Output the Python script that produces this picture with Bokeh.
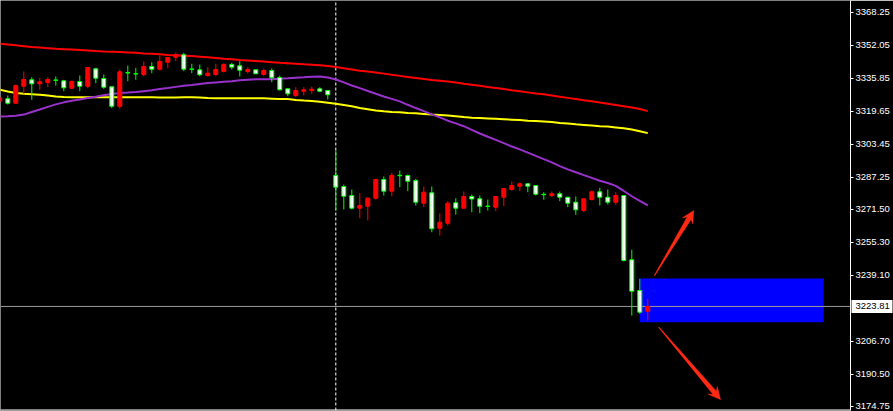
import math

from bokeh.plotting import figure
from bokeh.models import Range1d, LinearAxis, FixedTicker, PrintfTickFormatter
from bokeh.embed import file_html
from bokeh.resources import INLINE

# ---- price data (bar index, OHLC) ----
candle_index = list(range(-1, 81))

opens = [3324.57, 3325.74, 3323.58, 3331.93, 3335.07, 3333.11, 3333.75, 3335.00, 3334.58, 3330.95,
         3334.24, 3331.93, 3340.47, 3335.71, 3331.64, 3322.11, 3338.60, 3338.10, 3337.67, 3341.60,
         3340.28, 3343.71, 3346.17, 3347.34, 3340.40, 3339.98, 3337.18, 3337.67, 3339.15, 3342.58,
         3341.94, 3339.15, 3339.98, 3337.67, 3339.64, 3336.20, 3330.65, 3327.36, 3329.48, 3329.82,
         3330.65, 3329.82, 3288.09, 3282.69, 3278.27, 3272.04, 3273.02, 3276.95, 3286.13, 3280.39,
         3288.20, 3288.09, 3285.64, 3274.49, 3279.60, 3262.22, 3264.68, 3274.69, 3272.04, 3277.78,
         3276.65, 3273.10, 3272.53, 3277.44, 3281.22, 3282.84, 3284.02, 3283.18, 3278.85, 3278.27,
         3279.11, 3277.44, 3274.99, 3270.91, 3276.31, 3280.09, 3277.44, 3274.99, 3278.27, 3246.71,
         3231.64, 3221.48]
highs = [3326.90, 3327.36, 3332.76, 3339.15, 3336.35, 3336.05, 3336.35, 3336.69, 3335.07, 3334.73,
         3337.18, 3341.11, 3340.96, 3337.67, 3331.64, 3340.13, 3342.09, 3340.96, 3344.06, 3343.71,
         3347.00, 3346.02, 3348.47, 3348.33, 3342.93, 3342.58, 3341.26, 3342.93, 3343.22, 3343.42,
         3344.20, 3341.26, 3340.00, 3340.47, 3340.62, 3337.18, 3330.65, 3331.44, 3331.44, 3331.78,
         3331.44, 3329.82, 3300.36, 3283.67, 3281.22, 3279.40, 3277.44, 3286.47, 3287.60, 3289.42,
         3290.55, 3288.58, 3286.47, 3282.69, 3282.69, 3269.59, 3275.48, 3276.95, 3280.24, 3278.77,
         3278.27, 3276.31, 3277.78, 3281.71, 3285.15, 3284.66, 3284.02, 3283.18, 3279.90, 3280.24,
         3280.24, 3277.44, 3277.78, 3276.65, 3280.73, 3282.06, 3281.22, 3279.90, 3278.27, 3251.62,
         3237.38, 3227.57]
lows = [3323.90, 3322.95, 3323.19, 3328.20, 3325.25, 3330.16, 3331.44, 3332.27, 3329.48, 3330.65,
        3329.48, 3330.95, 3333.40, 3330.65, 3321.13, 3320.84, 3334.38, 3335.07, 3336.84, 3338.31,
        3339.64, 3340.77, 3344.20, 3339.29, 3338.31, 3336.84, 3336.69, 3336.84, 3338.66, 3340.13,
        3336.69, 3338.16, 3338.00, 3337.03, 3333.89, 3329.82, 3327.02, 3326.53, 3327.36, 3328.20,
        3328.98, 3325.40, 3270.91, 3271.40, 3271.40, 3267.13, 3266.00, 3276.16, 3278.27, 3277.93,
        3282.35, 3280.39, 3273.37, 3272.53, 3260.26, 3258.64, 3263.55, 3268.95, 3272.04, 3270.08,
        3269.59, 3270.91, 3270.57, 3273.02, 3280.73, 3280.39, 3279.90, 3278.27, 3276.16, 3277.44,
        3275.48, 3272.53, 3268.80, 3270.08, 3275.82, 3273.37, 3273.86, 3273.71, 3245.88, 3219.37,
        3220.20, 3216.91]
closes = [3326.24, 3323.58, 3332.27, 3335.22, 3333.11, 3334.09, 3335.22, 3334.80, 3331.14, 3334.24,
          3331.93, 3341.11, 3335.86, 3331.44, 3322.11, 3339.00, 3338.40, 3337.90, 3341.60, 3340.28,
          3344.06, 3346.02, 3347.49, 3340.28, 3340.20, 3337.53, 3338.31, 3340.13, 3342.58, 3341.26,
          3339.78, 3340.13, 3338.02, 3339.64, 3336.05, 3330.16, 3328.20, 3329.82, 3330.16, 3330.46,
          3329.48, 3327.71, 3282.35, 3277.93, 3272.04, 3273.37, 3276.95, 3286.13, 3280.39, 3288.09,
          3288.00, 3285.30, 3274.99, 3279.90, 3261.93, 3265.17, 3274.49, 3272.04, 3277.78, 3276.56,
          3273.02, 3272.90, 3277.78, 3281.71, 3283.18, 3284.02, 3282.84, 3278.91, 3278.65, 3279.11,
          3277.44, 3274.49, 3271.25, 3276.65, 3280.09, 3277.44, 3274.99, 3278.27, 3246.37, 3231.30,
          3220.99, 3223.81]

# ---- moving averages ----
ma_slow = [3352.8, 3352.4, 3352.0, 3351.6, 3351.2, 3350.9, 3350.6, 3350.3, 3350.1, 3349.9,
           3349.7, 3349.5, 3349.2, 3349.0, 3348.9, 3348.7, 3348.5, 3348.3, 3348.0, 3347.8,
           3347.6, 3347.3, 3347.1, 3346.9, 3346.7, 3346.4, 3346.1, 3345.8, 3345.4, 3345.1,
           3344.8, 3344.6, 3344.3, 3344.0, 3343.7, 3343.4, 3343.2, 3343.0, 3342.7, 3342.5,
           3342.2, 3341.9, 3341.4, 3340.7, 3340.1, 3339.5, 3339.1, 3338.6, 3338.1, 3337.5,
           3337.0, 3336.5, 3336.0, 3335.5, 3335.0, 3334.6, 3334.2, 3333.7, 3333.1, 3332.6,
           3332.1, 3331.5, 3331.0, 3330.5, 3329.9, 3329.4, 3328.9, 3328.4, 3328.0, 3327.4,
           3326.8, 3326.2, 3325.6, 3325.0, 3324.5, 3323.9, 3323.3, 3322.7, 3322.1, 3321.5,
           3320.7, 3319.7]
ma_mid = [3330.2, 3329.3, 3328.6, 3328.2, 3328.0, 3327.7, 3327.4, 3326.9, 3326.6, 3326.5,
          3326.5, 3326.5, 3326.5, 3326.5, 3326.5, 3326.5, 3326.5, 3326.5, 3326.5, 3326.5,
          3326.4, 3326.4, 3326.4, 3326.5, 3326.5, 3326.4, 3326.1, 3326.0, 3326.0, 3326.0,
          3326.0, 3326.0, 3326.0, 3326.0, 3325.8, 3325.6, 3325.6, 3325.2, 3324.9, 3324.7,
          3324.3, 3323.8, 3323.3, 3322.7, 3322.1, 3321.2, 3320.6, 3320.0, 3319.6, 3319.3,
          3319.1, 3318.8, 3318.6, 3318.3, 3318.0, 3317.8, 3317.6, 3317.2, 3316.8, 3316.5,
          3316.3, 3316.1, 3315.9, 3315.7, 3315.5, 3315.3, 3315.0, 3314.8, 3314.6, 3314.3,
          3313.9, 3313.6, 3313.2, 3312.9, 3312.6, 3312.3, 3312.1, 3311.7, 3311.3, 3310.7,
          3309.8, 3308.9]
ma_fast = [3317.1, 3317.2, 3317.4, 3318.0, 3319.3, 3320.5, 3321.8, 3323.0, 3324.0, 3324.8,
           3325.4, 3326.1, 3326.8, 3327.5, 3328.1, 3328.6, 3328.8, 3329.1, 3329.5, 3329.9,
           3330.5, 3331.0, 3331.6, 3332.1, 3332.5, 3333.0, 3333.5, 3333.8, 3334.1, 3334.4,
           3334.8, 3335.1, 3335.3, 3335.4, 3335.4, 3335.6, 3335.8, 3336.1, 3336.3, 3336.6,
           3336.7, 3336.2, 3335.2, 3333.8, 3332.3, 3331.0, 3329.6, 3328.2, 3326.9, 3325.7,
           3324.5, 3322.8, 3321.2, 3319.7, 3318.1, 3316.6, 3315.0, 3313.7, 3312.3, 3310.5,
           3308.7, 3307.1, 3305.6, 3304.0, 3302.3, 3300.9, 3299.3, 3297.7, 3296.1, 3294.5,
           3292.7, 3291.1, 3289.7, 3288.3, 3286.9, 3285.5, 3284.4, 3283.0, 3280.5, 3277.9,
           3275.6, 3273.4]

# ---- price scale labels and annotations ----
price_ticks = [3368.25, 3352.05, 3335.85, 3319.65, 3303.45, 3287.25, 3271.50,
               3255.30, 3239.10, 3206.70, 3190.50, 3174.75]
session_break = 41
zone_bars = (79, 102)
zone_prices = (3216.1, 3237.5)
arrow_tails = [(80.84, 3239.0), (81.38, 3213.6)]
arrow_tips = [(85.75, 3270.9), (89.09, 3178.1)]

BULL = "#ff0000"
BEAR_EDGE = "#00ff00"
SCALE_FONT = "Liberation Sans"
SCALE_SIZE = "9.5px"

# visible window
X0, X1 = -0.9125, 105.3375
Y0, Y1 = 3172.73, 3374.0
FW, FH = 850, 410

p = figure(width=893, height=411,
           x_range=Range1d(X0, X1), y_range=Range1d(Y0, Y1),
           output_backend="svg", toolbar_location=None,
           x_axis_location=None, y_axis_location=None,
           background_fill_color="black", border_fill_color="black",
           outline_line_color=None,
           min_border_left=0, min_border_top=0, min_border_bottom=1, min_border_right=43)
p.grid.visible = False

# price scale
yaxis = LinearAxis(ticker=FixedTicker(ticks=price_ticks),
                   formatter=PrintfTickFormatter(format="%.2f"),
                   axis_line_color="white", axis_line_width=1,
                   major_tick_line_color="white", major_tick_out=3, major_tick_in=0,
                   minor_tick_line_color=None,
                   major_label_text_color="white",
                   major_label_text_font=SCALE_FONT,
                   major_label_text_font_size=SCALE_SIZE,
                   major_label_standoff=2)
p.add_layout(yaxis, "right")

last = closes[-1]

# current-price tag on the scale: a thick white tick with the price in black
tag_axis = LinearAxis(ticker=FixedTicker(ticks=[last]),
                      formatter=PrintfTickFormatter(format="%.2f"),
                      axis_line_color=None,
                      major_tick_line_color="white", major_tick_line_width=13,
                      major_tick_line_cap="butt",
                      major_tick_in=41, major_tick_out=0,
                      minor_tick_line_color=None,
                      major_label_text_color="black",
                      major_label_text_font=SCALE_FONT,
                      major_label_text_font_size=SCALE_SIZE,
                      major_label_standoff=-37)
p.add_layout(tag_axis, "right")

# target zone
p.quad(left=[zone_bars[0]], right=[zone_bars[1]],
       bottom=[zone_prices[0]], top=[zone_prices[1]],
       fill_color="#0000ff", line_color=None)

# day separator
p.segment(x0=[session_break], x1=[session_break], y0=[Y0], y1=[Y1],
          line_color="white", line_width=1, line_dash="3 2")

# moving averages
p.line(candle_index, ma_slow, line_color="#ff0000", line_width=2)
p.line(candle_index, ma_mid, line_color="#ffff00", line_width=2)
p.line(candle_index, ma_fast, line_color="#9932cc", line_width=2)

# last price line
p.segment(x0=[X0], x1=[X1], y0=[last], y1=[last], line_color="#9a9a9a", line_width=1)

# candles
up = [c >= o for o, c in zip(opens, closes)]
wick_col = [BULL if u else BEAR_EDGE for u in up]
body_fill = [BULL if u else "white" for u in up]
body_line = [BULL if u else BEAR_EDGE for u in up]
p.segment(x0=candle_index, x1=candle_index, y0=lows, y1=highs,
          line_color=wick_col, line_width=1)
p.vbar(x=candle_index, width=0.5,
       top=[max(o, c) for o, c in zip(opens, closes)],
       bottom=[min(o, c) for o, c in zip(opens, closes)],
       fill_color=body_fill, line_color=body_line, line_width=1)

# bottom edge of the chart window
p.segment(x0=[X0], x1=[X1], y0=[Y0], y1=[Y0], line_color="white", line_width=2)

# tapered arrows, shaped in pixel space
sx = FW / (X1 - X0)
sy = FH / (Y1 - Y0)


def arrow_shape(tail, tip, head_len=12.0, head_half=6.0, join=9.0, shaft=4.5, tail_w=0.6):
    tu, tv = tail[0] * sx, tail[1] * sy
    pu, pv = tip[0] * sx, tip[1] * sy
    L = math.hypot(pu - tu, pv - tv)
    du, dv = (pu - tu) / L, (pv - tv) / L
    nu, nv = -dv, du
    bu, bv = pu - du * join, pv - dv * join
    wu, wv = pu - du * head_len, pv - dv * head_len
    pts = [
        (tu + nu * tail_w / 2, tv + nv * tail_w / 2),
        (bu + nu * shaft / 2, bv + nv * shaft / 2),
        (wu + nu * head_half, wv + nv * head_half),
        (pu, pv),
        (wu - nu * head_half, wv - nv * head_half),
        (bu - nu * shaft / 2, bv - nv * shaft / 2),
        (tu - nu * tail_w / 2, tv - nv * tail_w / 2),
    ]
    return [a / sx for a, _ in pts], [b / sy for _, b in pts]


for t, h in zip(arrow_tails, arrow_tips):
    xs, ys = arrow_shape(t, h)
    p.patch(xs, ys, fill_color="#ff2a14", line_color="#ff2a14", line_width=0.5)

open("out.html", "w").write(file_html(p, INLINE))
